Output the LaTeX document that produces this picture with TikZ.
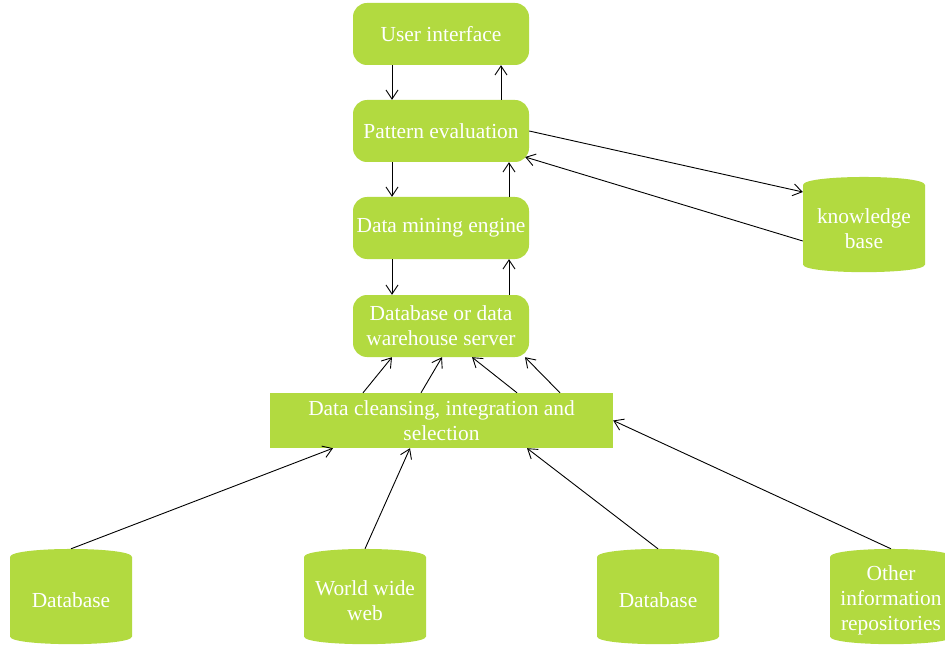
\documentclass[tikz,border=0pt]{standalone}
\usepackage{fontspec}
\setmainfont{Liberation Serif}
\usetikzlibrary{arrows.meta}
\definecolor{leaf}{RGB}{178,218,64}

% cylinder silhouette: bulging top and bottom, filled, with a named node on top
% #1 name, #2 centre x, #3 centre y, #4 text
\newcommand\drumnode[4]{%
  \fill[leaf] ({#2-61},{#3-39.5}) .. controls ({#2-61},{#3-50.2}) and ({#2+61},{#3-50.2}) .. ({#2+61},{#3-39.5})
    -- ({#2+61},{#3+40}) .. controls ({#2+61},{#3+50.2}) and ({#2-61},{#3+50.2}) .. ({#2-61},{#3+40}) -- cycle;
  \node[drum] (#1) at (#2,#3) {};
  \node[drumtext] at ([yshift=-4bp]#1.center) {#4};
}

\begin{document}
\begin{tikzpicture}[x=1bp,y=-1bp,
  every node/.style={text=white,font=\fontsize{21.5}{25}\selectfont,align=center,inner sep=0pt},
  stage/.style={fill=leaf,rounded corners=14bp,minimum width=176bp,minimum height=62bp},
  mixer/.style={fill=leaf,minimum width=343bp,minimum height=55bp},
  drum/.style={minimum width=122bp,minimum height=95bp},
  drumtext/.style={},
  arr/.style={draw=black,line width=0.9bp,-{Straight Barb[length=9bp,width=12bp,line width=0.9bp]}}]
\clip (0,0) rectangle (945,646);
\useasboundingbox (0,0) rectangle (945,646);

% processing chain
\node[stage] (ui)  at (441,34)  {User interface};
\node[stage] (pe)  at (441,131) {Pattern evaluation};
\node[stage] (dme) at (441,228) {Data mining engine};
\node[stage] (dbs) at (441,326) {Database or data\\warehouse server};
\node[mixer] (cl)  at (441.5,420.5) {Data cleansing, integration and\\selection};

% stores
\drumnode{kb}{864}{224.5}{knowledge\\base}
\drumnode{db1}{71}{596.5}{Database}
\drumnode{www}{365}{596.5}{World wide\\web}
\drumnode{db2}{658}{596.5}{Database}
\drumnode{oth}{891}{596.5}{Other\\information\\repositories}

% vertical links
\draw[arr] ([xshift=-49bp]ui.south) -- ([xshift=-49bp]pe.north);
\draw[arr] ([xshift=60bp]pe.north) -- ([xshift=60bp]ui.south);
\draw[arr] ([xshift=-49bp]pe.south) -- ([xshift=-49bp]dme.north);
\draw[arr] ([xshift=68bp]dme.north) -- ([xshift=68bp]pe.south);
\draw[arr] ([xshift=-49bp]dme.south) -- ([xshift=-49bp]dbs.north);
\draw[arr] ([xshift=68bp]dbs.north) -- ([xshift=68bp]dme.south);

% knowledge base links
\draw[arr] (pe.east) -- ([yshift=32.5bp]kb.west);
\draw[arr] ([yshift=-16.5bp]kb.west) -- ([xshift=-4bp,yshift=-26bp]pe.east);

% cleansing to server
\draw[arr] ([xshift=-78.5bp]cl.north) -- ([xshift=-49bp]dbs.south);
\draw[arr] ([xshift=-20.5bp]cl.north) -- ([xshift=1bp]dbs.south);
\draw[arr] ([xshift=75.5bp]cl.north) -- ([xshift=31bp]dbs.south);
\draw[arr] ([xshift=118.5bp]cl.north) -- ([xshift=84bp]dbs.south);

% sources to cleansing
\draw[arr] (db1.north) -- ([xshift=-108.5bp]cl.south);
\draw[arr] (www.north) -- ([xshift=-31.5bp]cl.south);
\draw[arr] (db2.north) -- ([xshift=85.5bp]cl.south);
\draw[arr] (oth.north) -- (cl.east);
\end{tikzpicture}
\end{document}
